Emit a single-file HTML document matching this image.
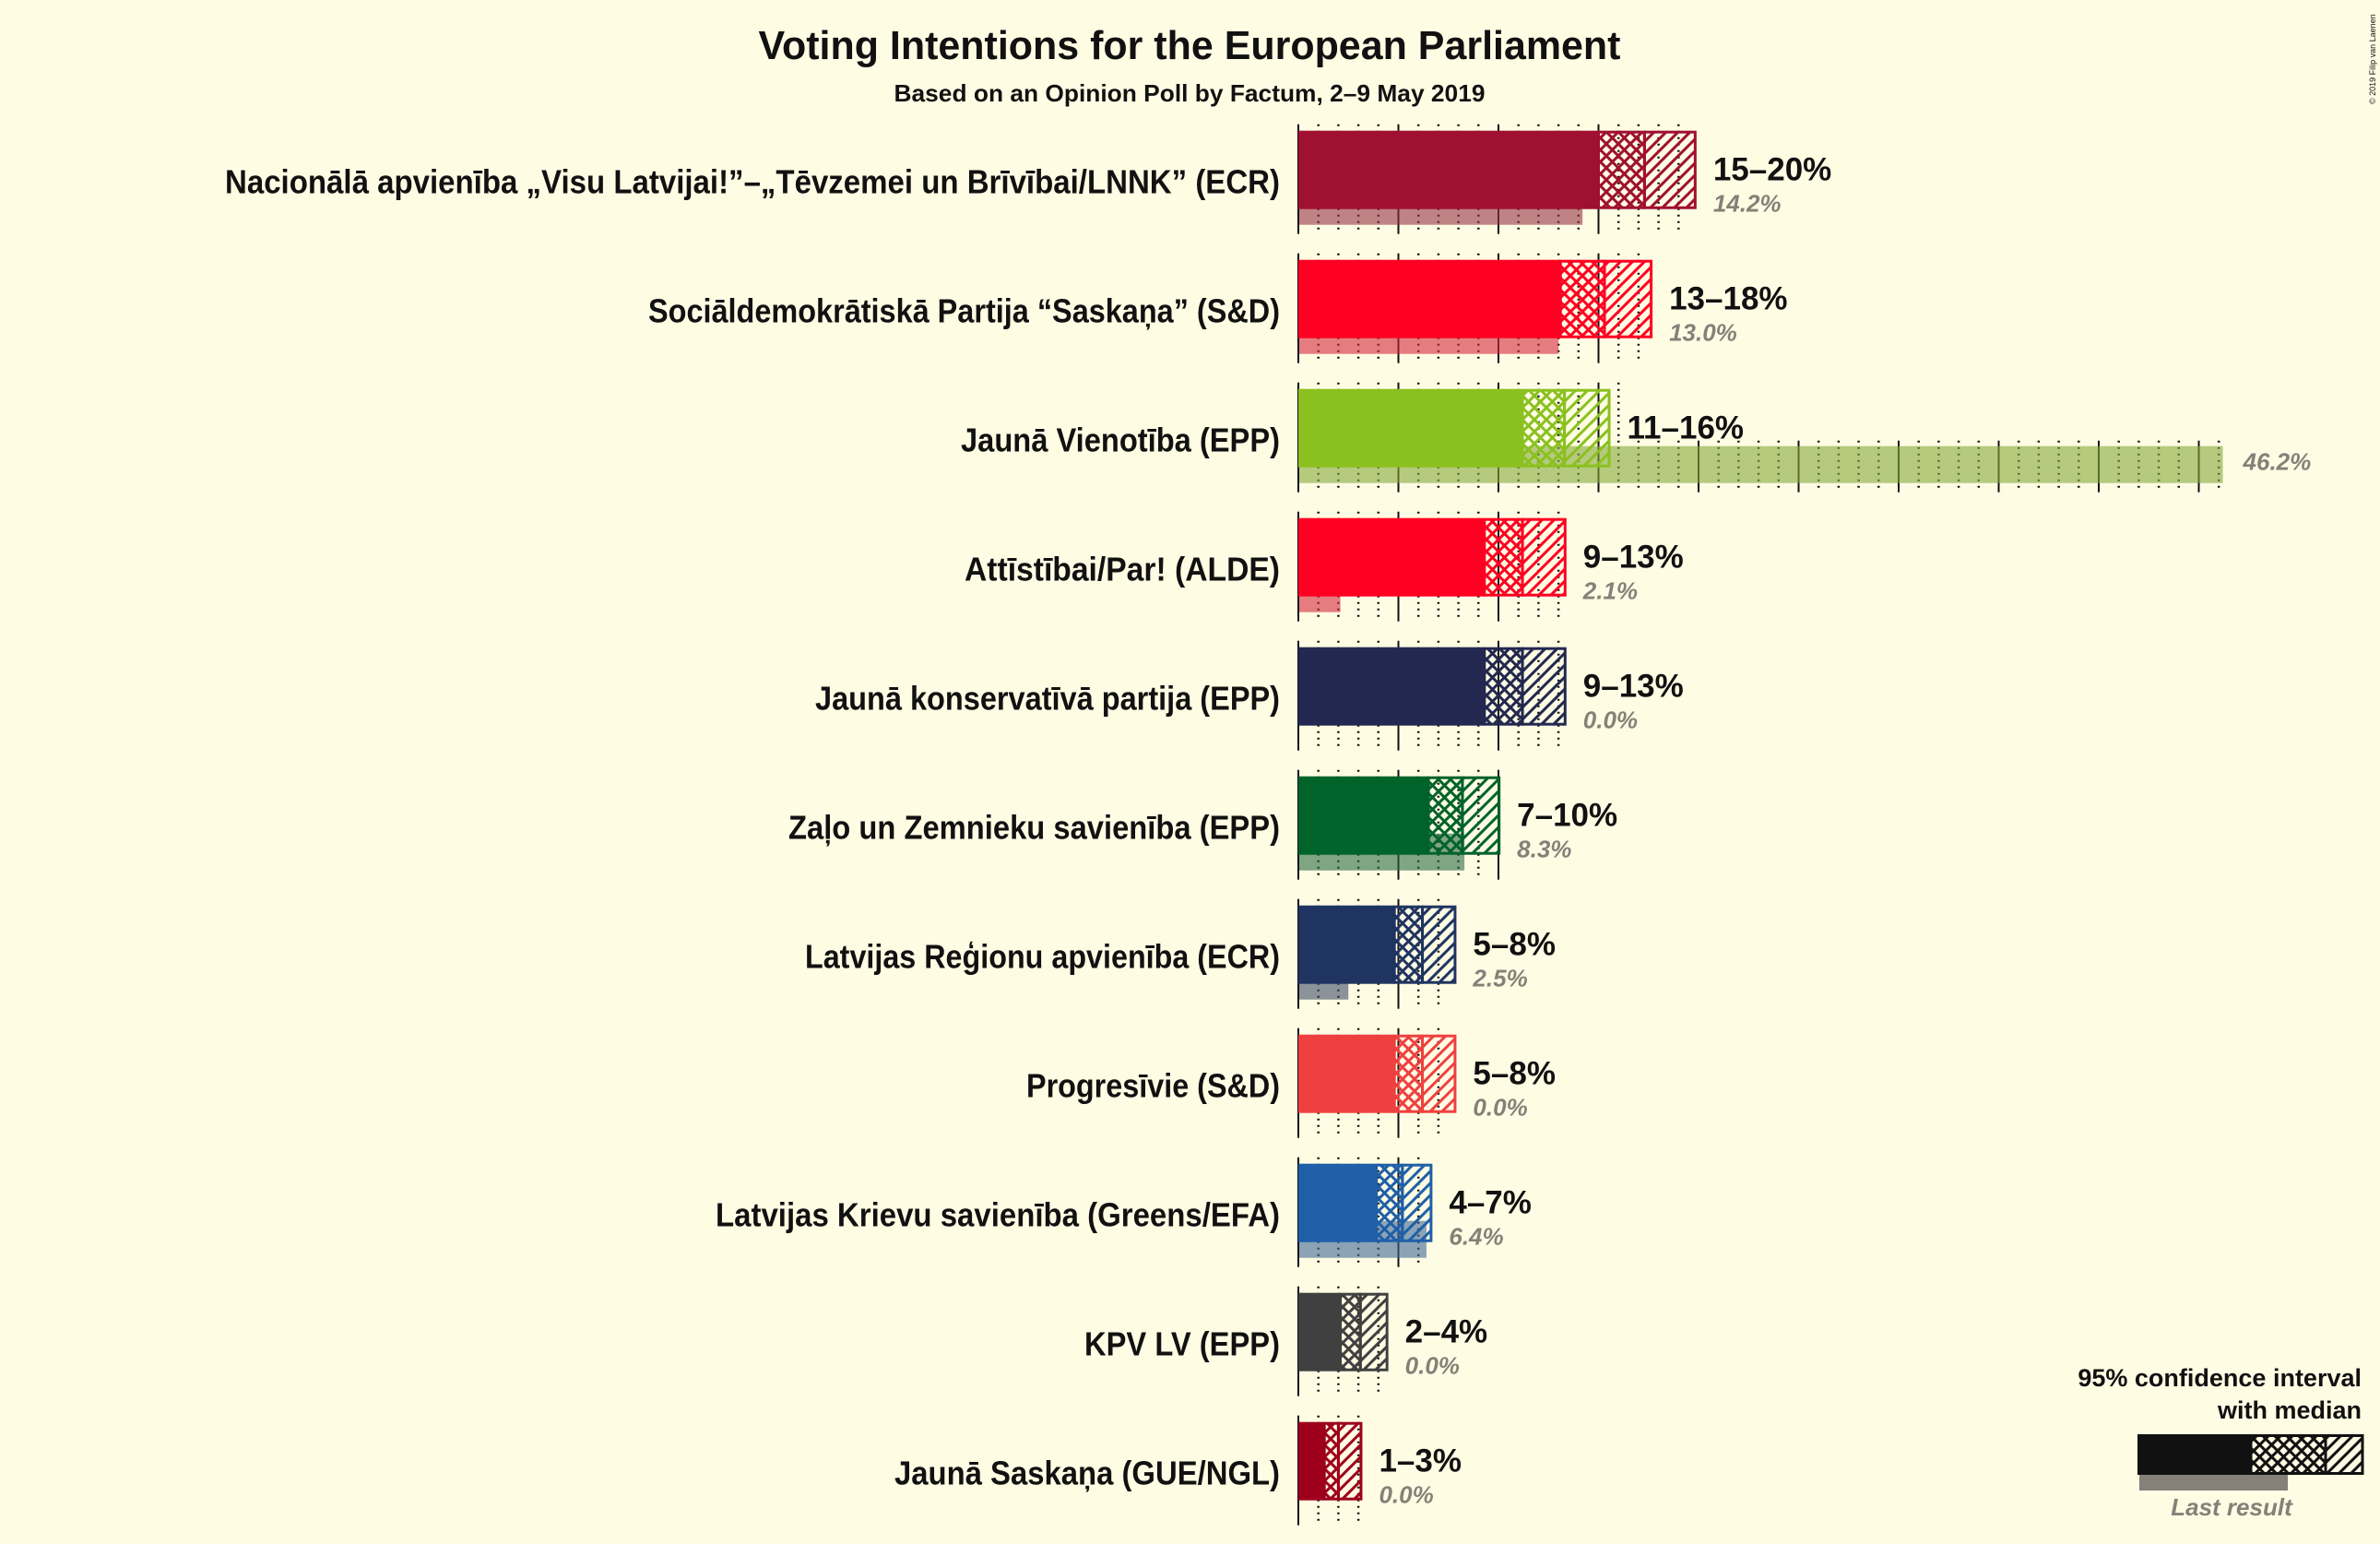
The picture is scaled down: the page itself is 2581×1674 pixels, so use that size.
<!DOCTYPE html>
<html><head><meta charset="utf-8"><style>
html,body{margin:0;padding:0;background:#FFFCE4;}
svg{display:block;}
text{font-family:"Liberation Sans",sans-serif;}
</style></head><body>
<svg id="chart" width="2581" height="1674" viewBox="0 0 2581 1674" xmlns="http://www.w3.org/2000/svg">
<rect x="0" y="0" width="2581" height="1674" fill="#FFFCE4"/>
<defs id="defs"></defs>
<text x="1290" y="64" text-anchor="middle" font-size="44" font-weight="bold" fill="#111" textLength="935" lengthAdjust="spacingAndGlyphs">Voting Intentions for the European Parliament</text>
<text x="1290" y="110" text-anchor="middle" font-size="26" font-weight="bold" fill="#111" textLength="641" lengthAdjust="spacingAndGlyphs">Based on an Opinion Poll by Factum, 2–9 May 2019</text>
<text transform="translate(2576,113) rotate(-90)" font-size="9" fill="#111">© 2019 Filip van Laenen</text>
<g id="grid"></g>
<g id="bars"></g>
<g id="legend"></g>
</svg>
<script>
const parties = ["Nacionālā apvienība „Visu Latvijai!”–„Tēvzemei un Brīvībai/LNNK” (ECR)","Sociāldemokrātiskā Partija “Saskaņa” (S&D)","Jaunā Vienotība (EPP)","Attīstībai/Par! (ALDE)","Jaunā konservatīvā partija (EPP)","Zaļo un Zemnieku savienība (EPP)","Latvijas Reģionu apvienība (ECR)","Progresīvie (S&D)","Latvijas Krievu savienība (Greens/EFA)","KPV LV (EPP)","Jaunā Saskaņa (GUE/NGL)"];
const ciLow = [15.0,13.1,11.2,9.3,9.3,6.5,4.8,4.8,3.9,2.1,1.3];
const median = [17.3,15.3,13.3,11.2,11.2,8.2,6.2,6.2,5.2,3.1,2.0];
const ciHigh = [19.9,17.7,15.6,13.4,13.4,10.1,7.9,7.9,6.7,4.5,3.2];
const lastResult = [14.2,13.0,46.2,2.1,0.0,8.3,2.5,0.0,6.4,0.0,0.0];
const rangeLabels = ["15–20%","13–18%","11–16%","9–13%","9–13%","7–10%","5–8%","5–8%","4–7%","2–4%","1–3%"];
const lastLabels = ["14.2%","13.0%","46.2%","2.1%","0.0%","8.3%","2.5%","0.0%","6.4%","0.0%","0.0%"];
const colors = ["#A01030","#FF0022","#8AC11F","#FF0022","#22284F","#006329","#1F3460","#EF4040","#1F5FA8","#404040","#9E001C"];
const labelWidths = [1144,685,346,342,504,533,515,275,612,212,418];

const NS="http://www.w3.org/2000/svg";
const X0=1408, PX=21.7, TOP0=141.7, PITCH=140, BH=85;
const x = v => X0 + v*PX;
const rowTop = i => TOP0 + i*PITCH;
function mk(tag, attrs, parent){const e=document.createElementNS(NS,tag);for(const k in attrs)e.setAttribute(k,attrs[k]);parent.appendChild(e);return e;}
const defs=document.getElementById('defs');
const grid=document.getElementById('grid');
const bars=document.getElementById('bars');
function patterns(id,c){
  const p1=mk('pattern',{id:'cross'+id,patternUnits:'userSpaceOnUse',width:13,height:13},defs);
  mk('path',{d:'M0,0 L13,13 M13,0 L0,13',stroke:c,'stroke-width':3},p1);
  const p2=mk('pattern',{id:'diag'+id,patternUnits:'userSpaceOnUse',width:13,height:13},defs);
  mk('path',{d:'M-3,16 L16,-3 M-3,3 L3,-3 M10,16 L16,10',stroke:c,'stroke-width':3},p2);
}
parties.forEach((name,i)=>{
  const t=rowTop(i), c=colors[i];
  patterns(i,c);
  const maxV=Math.max(ciHigh[i],lastResult[i]);
  for(let k=0;k<=Math.floor(maxV);k++){
    const major=k%5===0;
    const y1 = k>ciHigh[i]+0.5 ? t+56 : t-7;
    const l=mk('line',{x1:x(k),x2:x(k),y1:y1,y2:t+112,stroke:'#111','stroke-width':major?2:2.5,'stroke-dasharray':major?'none':'2,5'},grid);
    
    
  }
  const g=mk('g',{},bars);
  
  
  if(lastResult[i]>0){
    const lrg=mk('rect',{x:x(0)+1,y:t+62,width:x(lastResult[i])-x(0)-1,height:40,fill:'#858178',opacity:0.35},g);
    
    
    const lr=mk('rect',{x:x(0)+1,y:t+62,width:x(lastResult[i])-x(0)-1,height:40,fill:c,opacity:0.4},g);
    
    
  }
  const s=mk('rect',{x:x(0),y:t,width:x(ciLow[i])-x(0),height:BH,fill:c},g);
  
  
  const cr=mk('rect',{x:x(ciLow[i]),y:t+1.5,width:x(median[i])-x(ciLow[i]),height:BH-3,fill:'url(#cross'+i+')',stroke:c,'stroke-width':3},g);
  
  
  const dr=mk('rect',{x:x(median[i]),y:t+1.5,width:x(ciHigh[i])-x(median[i])-1.5,height:BH-3,fill:'url(#diag'+i+')',stroke:c,'stroke-width':3},g);
  
  
  const pl=mk('text',{x:1388,y:t+68,'text-anchor':'end','font-size':36,'font-weight':'bold',fill:'#111',textLength:labelWidths[i],lengthAdjust:'spacingAndGlyphs'},g);
  pl.textContent=name;
  
  
  const rl=mk('text',{x:x(ciHigh[i])+18,y:t+54,'font-size':35,'font-weight':'bold',fill:'#111'},g);
  rl.textContent=rangeLabels[i];
  
  
  const lx = lastResult[i]>ciHigh[i] ? x(lastResult[i])+22 : x(ciHigh[i])+18;
  const ll=mk('text',{x:lx,y:t+88,'font-size':26,'font-weight':'bold','font-style':'italic',fill:'#858178'},g);
  ll.textContent=lastLabels[i];
  
  
});
// legend
const lg=document.getElementById('legend');
patterns('L','#111');
const lt1=mk('text',{x:2561,y:1503,'text-anchor':'end','font-size':27,'font-weight':'bold',fill:'#111'},lg);
lt1.textContent='95% confidence interval';


const lt2=mk('text',{x:2561,y:1538,'text-anchor':'end','font-size':27,'font-weight':'bold',fill:'#111'},lg);
lt2.textContent='with median';


const lgr=mk('rect',{x:2320,y:1599,width:161,height:17,fill:'#858178'},lg);


const ls=mk('rect',{x:2318,y:1555,width:123,height:44,fill:'#111'},lg);


const lc=mk('rect',{x:2441,y:1556.5,width:81,height:41,fill:'url(#crossL)',stroke:'#111','stroke-width':3},lg);


const ld=mk('rect',{x:2522,y:1556.5,width:40,height:41,fill:'url(#diagL)',stroke:'#111','stroke-width':3},lg);


const ll2=mk('text',{x:2420,y:1643,'text-anchor':'middle','font-size':26,'font-weight':'bold','font-style':'italic',fill:'#858178'},lg);
ll2.textContent='Last result';


</script>
</body></html>
